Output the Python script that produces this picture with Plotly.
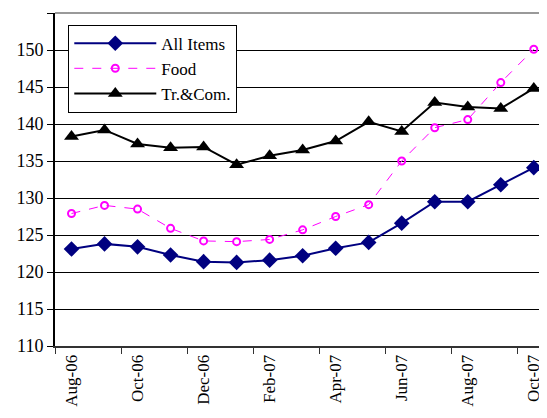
import plotly.graph_objects as go

months = ["Aug-06", "Sep-06", "Oct-06", "Nov-06", "Dec-06", "Jan-07", "Feb-07",
          "Mar-07", "Apr-07", "May-07", "Jun-07", "Jul-07", "Aug-07", "Sep-07", "Oct-07"]
all_items = [123.1, 123.8, 123.4, 122.3, 121.4, 121.3, 121.6, 122.2, 123.2, 124.0,
             126.6, 129.5, 129.5, 131.8, 134.1]
food = [127.9, 129.0, 128.5, 125.9, 124.2, 124.1, 124.4, 125.7, 127.5, 129.1,
        135.0, 139.5, 140.6, 145.6, 150.1]
tr_com = [138.3, 139.2, 137.3, 136.8, 136.9, 134.5, 135.7, 136.5, 137.7, 140.3,
          139.0, 142.9, 142.3, 142.1, 144.8]
y_ticks = [110, 115, 120, 125, 130, 135, 140, 145, 150, 155]

xi = list(range(len(months)))
label_idx = xi[::2]
boundaries = [i - 0.5 for i in range(0, len(months) + 1, 2)]

font_family = "Liberation Serif"

fig = go.Figure()
fig.add_trace(go.Scatter(
    x=xi, y=all_items, name="All Items", mode="lines+markers", legendgroup="a",
    line=dict(color="#000080", width=2),
    marker=dict(symbol="diamond", size=12, color="#000080"),
))
fig.add_trace(go.Scatter(
    x=xi, y=food, name="Food", mode="lines+markers", legendgroup="b",
    line=dict(color="#ff00ff", width=1, dash="dash"),
    marker=dict(symbol="circle-open", size=7, color="#ff00ff", line=dict(width=2)),
))
fig.add_trace(go.Scatter(
    x=xi, y=tr_com, name="Tr.&Com.", mode="lines+markers", legendgroup="c",
    line=dict(color="#000000", width=2),
    marker=dict(symbol="triangle-up", size=13, color="#000000"),
))

fig.update_layout(
    width=539, height=410,
    margin=dict(l=47, r=0, t=5, b=72, autoexpand=False),
    paper_bgcolor="white", plot_bgcolor="white",
    font=dict(family=font_family, size=17, color="black"),
    showlegend=True,
    legend=dict(
        x=0.027, y=0.965, xanchor="left", yanchor="top",
        bgcolor="white", bordercolor="black", borderwidth=1,
        font=dict(family=font_family, size=17, color="black"),
        traceorder="grouped", tracegroupgap=0, itemwidth=82,
    ),
    xaxis=dict(
        range=[-0.5, 14.4],
        tickmode="array", tickvals=label_idx,
        ticktext=[months[i] for i in label_idx],
        tickangle=-90, ticks="",
        showgrid=False, zeroline=False,
        showline=True, linecolor="#333333", linewidth=2,
        tickfont=dict(family=font_family, size=17),
        minor=dict(tickmode="array", tickvals=boundaries, ticks="outside",
                   ticklen=6, tickcolor="#333333", tickwidth=1, showgrid=False),
    ),
    yaxis=dict(
        range=[110, 155], tickmode="array", tickvals=y_ticks,
        ticks="outside", ticklen=6, tickcolor="black",
        showgrid=True, gridcolor="black", gridwidth=1,
        zeroline=False, showline=True, linecolor="black", linewidth=2,
        tickfont=dict(family=font_family, size=18),
    ),
    shapes=[dict(type="line", xref="paper", yref="paper", x0=0, x1=1, y0=1, y1=1,
                 line=dict(color="#999999", width=2))],
)

fig.write_html("out.html")
